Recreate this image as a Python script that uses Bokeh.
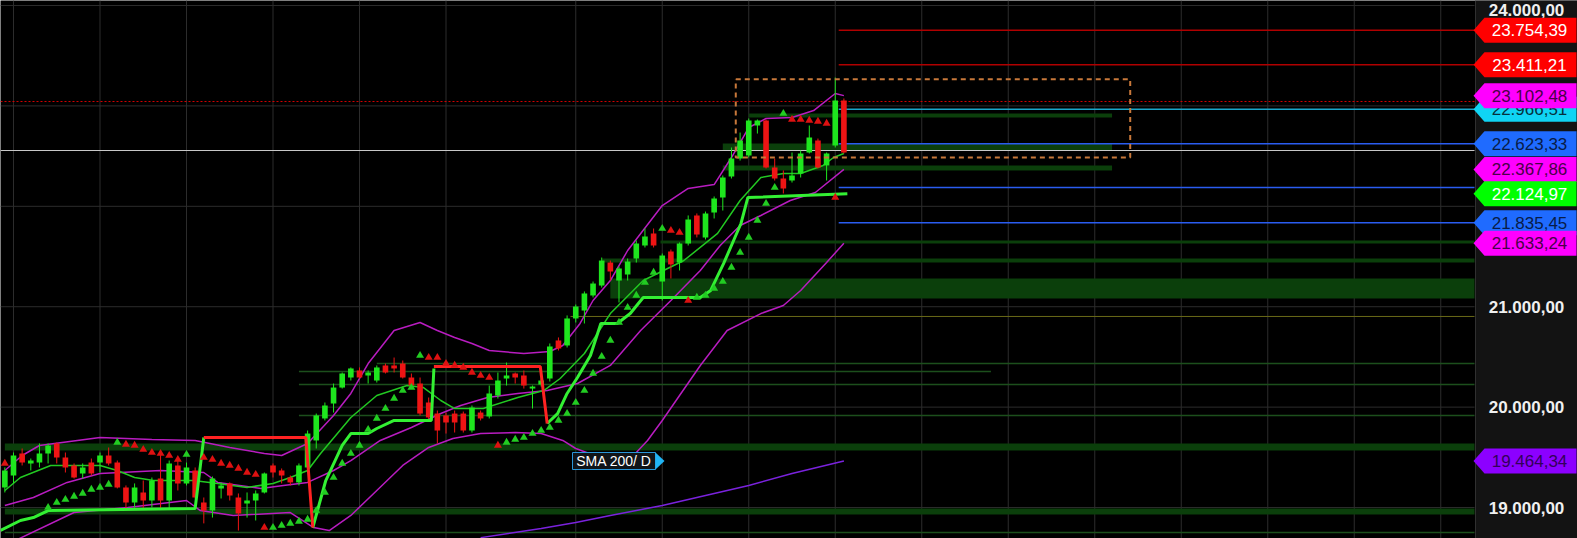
import math
from bokeh.plotting import figure
from bokeh.models import Range1d
from bokeh.embed import file_html
from bokeh.resources import INLINE
from bokeh.core.properties import value

# ---------------- data ----------------
open_ = [19200, 19319, 19538, 19439, 19448, 19538, 19638, 19498, 19419, 19339,
         19448, 19448, 19518, 19448, 19200, 19050, 19150, 19070, 19289, 19070,
         19419, 19240, 19369, 19050, 18970, 19190, 19240, 19100, 19040, 19070,
         19150, 19419, 19369, 19299, 19250, 19399, 19668, 19887, 20036, 20195,
         20295, 20365, 20315, 20265, 20415, 20415, 20434, 20295, 20235, 20046,
         19936, 19917, 19936, 19936, 19767, 19946, 19907, 20116, 20285, 20335,
         20315, 20185, 20225, 20285, 20664, 20614, 20883, 20962, 21112, 21211,
         21440, 21261, 21321, 21480, 21610, 21730, 21251, 21550, 21440, 21630,
         21909, 21690, 21938, 22088, 22297, 22476, 22506, 22805, 22855, 22387,
         22277, 22257, 22327, 22536, 22656, 22407, 22606, 23054]
high = [19399, 19548, 19588, 19488, 19638, 19638, 19648, 19548, 19439, 19439,
        19488, 19548, 19598, 19468, 19220, 19240, 19269, 19299, 19568, 19468,
        19498, 19448, 19399, 19100, 19309, 19250, 19250, 19140, 19150, 19170,
        19349, 19439, 19389, 19319, 19439, 19767, 19936, 20046, 20235, 20345,
        20395, 20395, 20365, 20415, 20434, 20494, 20464, 20335, 20295, 20096,
        19966, 19946, 19966, 19956, 20016, 19966, 20215, 20345, 20444, 20345,
        20365, 20215, 20285, 20634, 20694, 20913, 21022, 21152, 21251, 21490,
        21460, 21401, 21480, 21660, 21779, 21779, 21530, 21570, 21640, 21909,
        21929, 21948, 22098, 22307, 22586, 22735, 22875, 22865, 22865, 22476,
        22357, 22536, 22556, 22805, 22675, 22536, 23283, 23074]
low = [19150, 19240, 19419, 19369, 19399, 19439, 19439, 19349, 19289, 19289,
       19319, 19349, 19419, 19190, 18990, 19000, 18990, 19000, 18990, 18990,
       19170, 19220, 19090, 18842, 18900, 19090, 19070, 18771, 18900, 18871,
       19140, 19299, 19240, 19220, 19220, 19389, 19588, 19867, 19946, 20185,
       20265, 20285, 20235, 20245, 20335, 20345, 20285, 20195, 19917, 19867,
       19638, 19737, 19747, 19747, 19747, 19867, 19887, 20086, 20215, 20235,
       20185, 19986, 20205, 20255, 20564, 20594, 20843, 20833, 21092, 21191,
       21261, 21042, 21261, 21440, 21590, 21590, 21062, 21281, 21361, 21610,
       21690, 21670, 21879, 21958, 22277, 22456, 22486, 22725, 22377, 22257,
       22128, 22237, 22287, 22526, 22377, 22257, 22586, 22526]
close = [19369, 19518, 19448, 19468, 19538, 19618, 19498, 19399, 19299, 19399,
         19339, 19518, 19439, 19200, 19050, 19200, 19070, 19269, 19070, 19439,
         19240, 19399, 19100, 18970, 19289, 19220, 19120, 18940, 19070, 19140,
         19339, 19349, 19319, 19250, 19419, 19737, 19917, 20016, 20195, 20335,
         20385, 20295, 20345, 20395, 20345, 20385, 20295, 20215, 19936, 19897,
         19767, 19847, 19847, 19767, 19996, 19887, 20136, 20265, 20315, 20295,
         20215, 20205, 20265, 20604, 20584, 20883, 21002, 21132, 21231, 21460,
         21351, 21381, 21450, 21630, 21700, 21610, 21510, 21421, 21630, 21869,
         21720, 21929, 22078, 22287, 22476, 22656, 22855, 22855, 22387, 22277,
         22178, 22307, 22526, 22685, 22387, 22526, 23054, 22536]
bars = list(range(len(close)))

# Bollinger band lines (bar index, price)
bb_upper_x = [0, 2, 4, 11, 17, 22, 26, 30, 32, 35, 38, 40, 42, 45, 48, 50, 52, 54, 56, 60,
              63, 64.5, 66.5, 68, 70, 72, 76, 79, 82, 84, 86, 88, 91, 93.5, 96, 97]
bb_upper_y = [19369, 19518, 19618, 19697, 19678, 19668, 19598, 19538, 19518, 19638, 19917,
              20136, 20434, 20763, 20843, 20763, 20694, 20634, 20564, 20534, 20554, 20614,
              20833, 21062, 21261, 21560, 22008, 22178, 22217, 22486, 22785, 22875, 22885,
              22954, 23124, 23102.48]
bb_mid_x = [0, 3.3, 7.2, 11, 18, 23, 24.6, 29.6, 32.2, 35, 38, 40, 43.4, 47, 50.4, 52.7, 55.8,
            59.3, 62.7, 66.2, 70, 73.5, 77, 80.4, 82.7, 85, 87.4, 90.8, 93.7, 97]
bb_mid_y = [19020, 19100, 19250, 19339, 19369, 19349, 19250, 19190, 19220, 19250, 19369, 19468,
            19668, 19797, 19936, 20016, 20096, 20136, 20165, 20235, 20415, 20763, 21062, 21361,
            21610, 21809, 21909, 22058, 22138, 22367.86]
bb_lower_x = [0, 8, 14.2, 21, 22.6, 26.4, 33, 35.7, 37.5, 40, 43, 46, 49, 51.8, 55, 59, 62, 64.5,
              66, 68.5, 71, 73, 74.3, 76, 78, 80.4, 83.5, 87.4, 90, 92, 95, 97]
bb_lower_y = [18622, 18950, 19000, 19070, 18970, 18921, 18950, 18801, 18771, 18921, 19170, 19419,
              19598, 19687, 19737, 19747, 19737, 19668, 19588, 19508, 19488, 19548, 19668, 19867,
              20116, 20415, 20763, 20932, 21012, 21162, 21440, 21633.24]
ema_x = [0, 1.8, 5.3, 11, 13, 15, 17.2, 21.8, 24.6, 28, 31, 33, 35, 36.5, 40, 43, 46.5, 48.4,
         50.4, 52, 55.3, 59.3, 62.3, 64.2, 67, 70, 73.8, 78.5, 82.4, 85, 87.4, 90, 92, 94.6, 95.8, 97]
ema_y = [19170, 19299, 19419, 19419, 19369, 19299, 19269, 19269, 19240, 19200, 19240, 19299,
         19369, 19538, 19897, 20116, 20215, 20195, 20066, 19986, 19986, 20096, 20165, 20285,
         20534, 20932, 21261, 21460, 21730, 22058, 22287, 22327, 22327, 22407, 22486, 22526]
sma200_x = [55, 62, 66, 70, 76, 81, 86, 91, 97]
sma200_y = [18700, 18791, 18851, 18921, 19020, 19120, 19220, 19339, 19464.34]

# Supertrend (green = support, red = resistance)
st_green_x = [[-0.5, 1.8, 3.3, 5, 22, 23],
              [35.6, 37.1, 39, 40, 42, 43, 45, 49.3, 49.6],
              [62.7, 63.9, 65, 66.2, 67.7, 68.9, 70.8, 72.3, 73.8, 80.4, 81.6, 83.1, 85.1,
               85.9, 97.4]]
st_green_y = [[18771, 18871, 18900, 18970, 18990, 19697],
              [18801, 19269, 19618, 19737, 19737, 19787, 19867, 19867, 20385],
              [19837, 19936, 20136, 20295, 20514, 20833, 20833, 20932, 21092, 21092, 21162,
               21431, 21829, 22088, 22124.97]]
st_red_x = [[23, 34.8, 35.6], [49.6, 61.9, 62.7]]
st_red_y = [[19697, 19697, 18801], [20405, 20405, 19837]]

# Parabolic SAR dots
sar_x = [0, 5, 6, 7, 8, 9, 10, 11, 12, 13, 14, 15, 16, 17, 18, 19, 20, 21, 23, 24, 25, 26, 27,
         28, 29, 30, 31, 32, 33, 34, 35, 36, 37, 38, 39, 40, 41, 42, 43, 44, 45, 46, 47, 48, 49,
         50, 51, 52, 53, 54, 55, 56, 57, 58, 59, 60, 61, 62, 63, 64, 65, 66, 67, 68, 69, 70, 71,
         72, 73, 74, 75, 76, 77, 78, 79, 80, 81, 82, 83, 84, 85, 86, 87, 88, 89, 90, 91, 92, 93,
         94, 95, 96]
sar_y = [19439, 19000, 19050, 19080, 19110, 19140, 19180, 19200, 19230, 19648, 19628, 19618,
         19578, 19548, 19538, 19518, 19478, 19528, 19498, 19478, 19439, 19419, 19389, 19349,
         19329, 18801, 18801, 18821, 18841, 18861, 18881, 18970, 19150, 19299, 19439, 19538,
         19618, 19777, 19887, 19986, 20086, 20165, 20195, 20514, 20494, 20494, 20434, 20415,
         20395, 20345, 20315, 20295, 19618, 19648, 19678, 19697, 19737, 19767, 19797, 19867,
         19936, 20046, 20165, 20335, 20504, 20664, 20843, 20992, 21112, 21241, 21341, 21779,
         21759, 21739, 21062, 21092, 21112, 21182, 21251, 21391, 21540, 21690, 21859, 22028,
         22187, 22924, 22865, 22865, 22855, 22845, 22825, 22088]
sar_up = [0, 1, 1, 1, 1, 1, 1, 1, 1, 1, 0, 0, 0, 0, 0, 0, 0, 1, 0, 0, 0, 0, 0, 0, 0, 0, 1, 1,
          1, 1, 1, 1, 1, 1, 1, 1, 1, 1, 1, 1, 1, 1, 1, 1, 0, 0, 0, 0, 0, 0, 0, 0, 0, 1, 1, 1, 1,
          1, 1, 1, 1, 1, 1, 1, 1, 1, 1, 1, 1, 1, 1, 1, 0, 0, 0, 1, 1, 1, 1, 1, 1, 1, 1, 1, 1, 1,
          0, 0, 0, 0, 0, 0]

# Support / resistance zones: (from bar, to bar, top, bottom)
zone_from = [0, 0, 70, 69, 75.8, 83, 83, 86]
zone_to = [169.9, 169.9, 169.9, 169.9, 169.9, 128, 128, 128]
zone_top = [19638, 18990, 21281, 21480, 21660, 22626, 22407, 22925]
zone_bot = [19568, 18930, 21082, 21440, 21630, 22556, 22357, 22885]
sr_line_from = [43, 34, 34, 34, 0]
sr_line_to = [169.9, 169.9, 169.9, 114, 169.9]
sr_line_price = [20434, 20225, 19917, 20355, 18751]
olive_from, olive_price = 65.4, 20903

# Levels on the right with price tags
lvl_price = [23754.39, 23411.21, 22966.51, 22623.33, 22187.0, 21835.45]
lvl_color = ["#b00000", "#b00000", "#1aa6c8", "#2a5cf0", "#2a5cf0", "#2a5cf0"]
lvl_from = 96.4
tag_value = [23754.39, 23411.21, 22966.51, 23102.48, 22623.33, 22367.86, 22124.97,
             21835.45, 21633.24, 19464.34]
tag_fill = ["#ff0000", "#ff0000", "#10d4f4", "#ff00ff", "#1f6bff", "#ff00ff", "#00ff00",
            "#1f6bff", "#ff00ff", "#8c00ff"]
tag_text_color = ["#ffffff", "#ffffff", "#06303c", "#4a0048", "#081c48", "#4a0048", "#ffffff",
                  "#081c48", "#4a0048", "#33005a"]
axis_ticks = [19000, 20000, 21000, 24000]
grid_prices = [19000, 20000, 21000, 22000, 23000, 24000]
grid_bars = [1, 11, 21, 31, 41, 51, 66, 76, 86, 96, 106, 116, 126, 136, 146, 156, 166]
current_price = 22556
red_dotted_price = 23044
box_left, box_right, box_top, box_bottom = 84.5, 130.1, 23265, 22486
sma_label = "SMA 200/ D"

# ---------------- layout helpers ----------------
PX_PER_BAR = 8.65
X0 = 4.35
PRICE_PER_PX = 9.96
def bx(px):
    return (px - X0) / PX_PER_BAR

W, H = 1577, 538
Y_TOP = 24050
Y_BOT = Y_TOP - H * PRICE_PER_PX
PLOT_END = bx(1474)

def eu(v):
    s = f"{v:,.2f}"
    return s.replace(",", "X").replace(".", ",").replace("X", ".")

p = figure(width=W, height=H, output_backend="svg", toolbar_location=None,
           x_range=Range1d(bx(0), bx(W)), y_range=Range1d(Y_BOT, Y_TOP),
           x_axis_location=None, y_axis_location=None, min_border=0,
           background_fill_color="#000000", border_fill_color="#000000")
p.outline_line_color = None
p.xgrid.visible = False
p.ygrid.visible = False

# grid
p.segment(x0=[bx(0)] * len(grid_prices), x1=[PLOT_END] * len(grid_prices), y0=grid_prices,
          y1=grid_prices, line_color="#2c2c2c", line_width=1)
p.segment(x0=grid_bars, x1=grid_bars, y0=[Y_BOT] * len(grid_bars), y1=[Y_TOP] * len(grid_bars),
          line_color="#2c2c2c", line_width=1)

# zones
p.quad(left=zone_from, right=[min(z, PLOT_END) for z in zone_to], top=zone_top,
       bottom=zone_bot, fill_color="#0b3f0b", line_color=None)
p.segment(x0=sr_line_from, x1=[min(z, PLOT_END) for z in sr_line_to], y0=sr_line_price,
          y1=sr_line_price, line_color="#1c4f1c", line_width=1.5)
p.segment(x0=[olive_from], x1=[PLOT_END], y0=[olive_price], y1=[olive_price],
          line_color="#6a6a18", line_width=1)

# levels
p.segment(x0=[lvl_from] * len(lvl_price), x1=[PLOT_END] * len(lvl_price), y0=lvl_price,
          y1=lvl_price, line_color=lvl_color, line_width=1.5)
p.segment(x0=[bx(0)], x1=[PLOT_END], y0=[red_dotted_price], y1=[red_dotted_price],
          line_color="#d00000", line_width=1, line_dash="2 2")
p.segment(x0=[bx(0)], x1=[PLOT_END], y0=[current_price], y1=[current_price],
          line_color="#c8c8c8", line_width=1)

# SMA 200
p.line(sma200_x, sma200_y, line_color="#7a22dd", line_width=1.5)

# Bollinger
for xs, ys in ((bb_upper_x, bb_upper_y), (bb_mid_x, bb_mid_y), (bb_lower_x, bb_lower_y)):
    p.line(xs, ys, line_color="#b81cc0", line_width=1.5)
p.line(ema_x, ema_y, line_color="#22c822", line_width=1.5)

# candles
up = [c >= o for o, c in zip(open_, close)]
ccol = ["#1ee61e" if u else "#ee1414" for u in up]
p.segment(x0=bars, x1=bars, y0=low, y1=high, line_color=ccol, line_width=1)
p.vbar(x=bars, width=0.65, top=[max(o, c) for o, c in zip(open_, close)],
       bottom=[min(o, c) for o, c in zip(open_, close)], fill_color=ccol, line_color=None)

# supertrend
p.multi_line(st_green_x, st_green_y, line_color="#33f033", line_width=3)
p.multi_line(st_red_x, st_red_y, line_color="#ff2222", line_width=3)

# SAR
p.scatter(sar_x, sar_y, marker="triangle", size=8,
          fill_color=["#22cc22" if u else "#dd1111" for u in sar_up], line_color=None)

# dashed box
p.multi_line([[box_left, box_right, box_right, box_left, box_left]],
             [[box_top, box_top, box_bottom, box_bottom, box_top]],
             line_color="#c8783a", line_width=2, line_dash="5 4")

# SMA label
lab_l, lab_r = bx(572), bx(655)
lab_t, lab_b = Y_TOP - 452 * PRICE_PER_PX, Y_TOP - 469 * PRICE_PER_PX
p.quad(left=[lab_l], right=[lab_r], top=[lab_t], bottom=[lab_b], fill_color="#101418",
       line_color="#2a96d8", line_width=1)
p.patches([[lab_r, bx(664), lab_r]], [[lab_t, (lab_t + lab_b) / 2, lab_b]],
          fill_color="#20b4f4", line_color=None)
p.text(x=[(lab_l + lab_r) / 2], y=[(lab_t + lab_b) / 2], text=[sma_label],
       text_font=value("Liberation Sans"), text_font_size="14px", text_color="#ffffff",
       text_align="center", text_baseline="middle")

# right price panel
p.quad(left=[bx(1475)], right=[bx(W)], top=[Y_TOP], bottom=[Y_BOT],
       fill_color="#131313", line_color=None)
p.segment(x0=[bx(1475)], x1=[bx(1475)], y0=[Y_BOT], y1=[Y_TOP], line_color="#303030")
label_top_limit = Y_TOP - 9 * PRICE_PER_PX
p.text(x=[bx(1526)] * len(axis_ticks), y=[min(v, label_top_limit) for v in axis_ticks],
       text=[eu(v) for v in axis_ticks],
       text_font=value("Liberation Sans"), text_font_size="17px", text_font_style="bold",
       text_color="#f0f0f0", text_align="center", text_baseline="middle")

half = 12.5 * PRICE_PER_PX
tip, bl, br = bx(1473), bx(1484), bx(1576)
for v, fc, tc in zip(tag_value, tag_fill, tag_text_color):
    p.patches([[tip, bl, br, br, bl]], [[v, v + half, v + half, v - half, v - half]],
              fill_color=fc, line_color=None)
    p.text(x=[bx(1529)], y=[v], text=[eu(v)], text_font=value("Liberation Sans"),
           text_font_size="17px", text_color=tc, text_align="center", text_baseline="middle")

open("out.html", "w").write(file_html(p, INLINE))
